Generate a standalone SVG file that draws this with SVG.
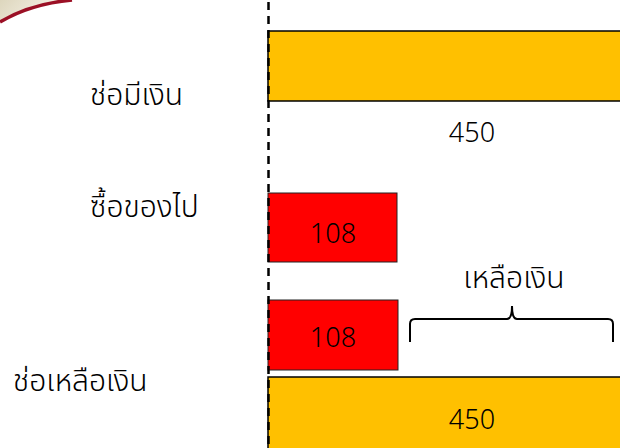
<svg xmlns="http://www.w3.org/2000/svg" width="620" height="448" viewBox="0 0 620 448">
<style>
.lbl{font-family:"Noto Sans Thai","Noto Sans","DejaVu Sans","Liberation Sans",sans-serif;font-size:30px;font-weight:300;fill:#000}
.num{font-family:"Noto Sans Thai","Noto Sans","DejaVu Sans","Liberation Sans",sans-serif;font-size:27px;font-weight:300;fill:#000;text-anchor:middle}
.gold{fill:#FFC000;stroke:#000;stroke-width:1.5}
.red{fill:#FF0000;stroke:#222;stroke-width:1}
</style>
<defs>
<linearGradient id="bg" x1="0" y1="0" x2="1" y2="0.3">
<stop offset="0" stop-color="#ddd6bd"/>
<stop offset="1" stop-color="#fbf7ef"/>
</linearGradient>
</defs>
<rect width="620" height="448" fill="#fff"/>
<g id="decor">
<path d="M0 0 L72 0 Q30 4 0 22 Z" fill="url(#bg)"/>
<path d="M0 22 Q30 4 72 0" fill="none" stroke="#9b1025" stroke-width="3.5"/>
</g>
<g id="labels">
<text class="lbl" x="90" y="105">ช่อมีเงิน</text>
<text class="lbl" x="90" y="217">ซื้อของไป</text>
<text class="lbl" x="13" y="391">ช่อเหลือเงิน</text>
</g>
<g id="bar-top">
<rect class="gold" x="268" y="31" width="360" height="70"/>
</g>
<text class="num" x="472" y="142">450</text>
<g id="bar-buy">
<rect class="red" x="268" y="193" width="129" height="69"/>
<text class="num" x="333" y="243">108</text>
</g>
<g id="bar-buy2">
<rect class="red" x="268" y="300" width="130" height="70"/>
<text class="num" x="333" y="347">108</text>
</g>
<g id="bar-bottom">
<rect class="gold" x="268" y="377" width="360" height="72"/>
<text class="num" x="472" y="429">450</text>
</g>
<g id="connectors">
<line x1="268.5" y1="2" x2="268.5" y2="448" stroke="#000" stroke-width="2.5" stroke-dasharray="8 6"/>
<path d="M410 342 L410 324 Q410 319 415 319 L507 319 Q512 319 512 306 Q512 319 517 319 L608 319 Q613 319 613 324 L613 342" fill="none" stroke="#000" stroke-width="2"/>
</g>
<g id="brace-label">
<text class="lbl" x="514" y="288" text-anchor="middle">เหลือเงิน</text>
</g>
</svg>
